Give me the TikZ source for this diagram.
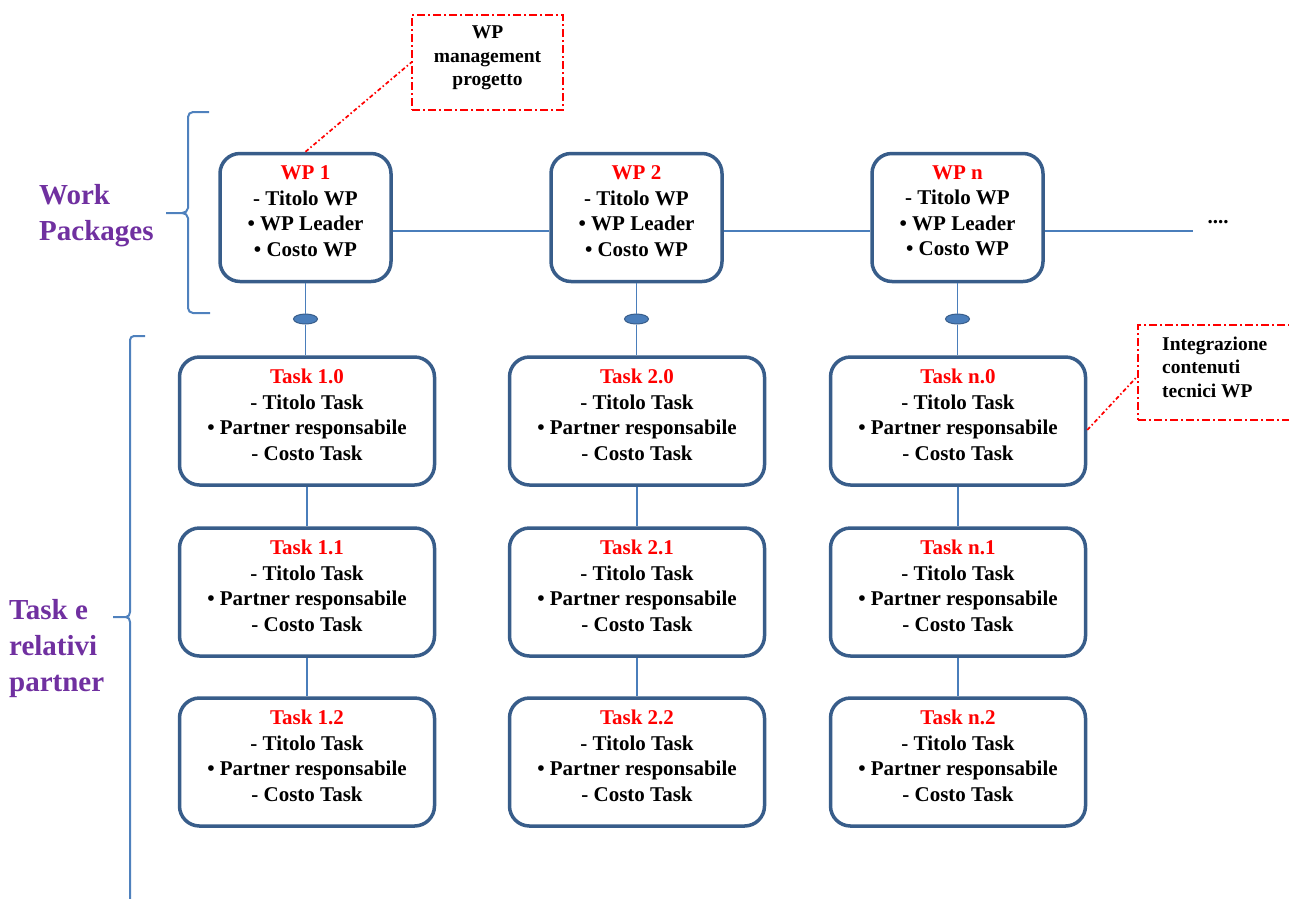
\documentclass[tikz,border=0pt]{standalone}
\usepackage{fontspec}
\setmainfont{Liberation Serif}
\usetikzlibrary{calc,shapes.geometric}
\definecolor{boxc}{HTML}{385D8A}
\definecolor{linec}{HTML}{4A7EBB}
\definecolor{bracec}{HTML}{4F81BD}
\definecolor{purp}{HTML}{7030A0}
\begin{document}
\begin{tikzpicture}[x=1pt,y=-1pt,
  wpbox/.style={draw=boxc, line width=3.5pt, rounded corners=20pt, fill=white,
    minimum width=171pt, minimum height=128pt, inner sep=0pt},
  taskbox/.style={draw=boxc, line width=3.5pt, rounded corners=20pt, fill=white,
    minimum width=255pt, minimum height=128pt, inner sep=0pt},
  boxtext/.style={font=\fontsize{21}{25.5}\selectfont\bfseries, align=center, inner sep=0pt},
  calltext/.style={font=\fontsize{19.5}{23.5}\selectfont\bfseries, inner sep=0pt},
  sidelabel/.style={font=\fontsize{29}{36}\selectfont\bfseries, text=purp, align=left, inner sep=0pt, anchor=west},
  callout/.style={draw=red, line width=1.6pt, dash pattern=on 8pt off 3pt on 2pt off 3pt, inner sep=0pt},
  leader/.style={draw=red, line width=1.7pt, dash pattern=on 4pt off 2.5pt on 1.5pt off 2.5pt},
  conn/.style={draw=linec, line width=1.8pt},
  brace/.style={draw=bracec, line width=2pt},
  tie/.style={ellipse, draw=boxc, line width=1pt, fill=linec, minimum width=24pt, minimum height=10pt, inner sep=0pt}
]
\useasboundingbox (0,0) rectangle (1289,898);
\clip (0,0) rectangle (1289,898);

% side labels
\node[sidelabel] (lwp) at (39,216) {Work\\Packages};
\node[sidelabel] (ltask) at (9,649) {Task e\\relativi\\partner};

% braces
\draw[brace] (209,112) -- (193,112) to[out=180,in=90] (188,117) -- (188,208)
  to[out=-90,in=0] (182,213) -- (166,213);
\draw[brace] (182,213) to[out=0,in=90] (188,218) -- (188,308) to[out=-90,in=180] (193,313) -- (210,313);
\draw[brace] (145,336) -- (134,336) to[out=180,in=90] (130,340) -- (130,612)
  to[out=-90,in=0] (126,617) -- (113,617);
\draw[brace] (126,617) to[out=0,in=90] (130,622) -- (130,900);

% horizontal WP line
\coordinate (hy) at (0,231);
\coordinate (dotsend) at (1193,231);

% WP boxes
\node[wpbox] (wp1) at (305.5,217.5) {};
\node[wpbox] (wp2) at (636.5,217.5) {};
\node[wpbox] (wpn) at (957.5,217.5) {};

\draw[conn] (wp1.east|-hy) -- (wp2.west|-hy);
\draw[conn] (wp2.east|-hy) -- (wpn.west|-hy);
\draw[conn] (wpn.east|-hy) -- (dotsend);
\node[boxtext] (dots) at (1218,222) {....};

\node[boxtext] (wp1t) at (305.5,211) {\textcolor{red}{WP 1}\\- Titolo WP\\• WP Leader\\• Costo WP};
\node[boxtext] (wp2t) at (636.5,211) {\textcolor{red}{WP 2}\\- Titolo WP\\• WP Leader\\• Costo WP};
\node[boxtext] (wpnt) at (957.5,211) {\textcolor{red}{WP n}\\- Titolo WP\\• WP Leader\\• Costo WP};

% task boxes
\foreach \c/\x/\lab in {1/307/1,2/637/2,3/958/n}{
  \node[taskbox] (t\c0) at (\x,421) {};
  \node[taskbox] (t\c1) at (\x,592) {};
  \node[taskbox] (t\c2) at (\x,762) {};
  \node[boxtext] (t\c0t) at (\x,415) {\textcolor{red}{Task \lab.0}\\- Titolo Task\\• Partner responsabile\\- Costo Task};
  \node[boxtext] (t\c1t) at (\x,586) {\textcolor{red}{Task \lab.1}\\- Titolo Task\\• Partner responsabile\\- Costo Task};
  \node[boxtext] (t\c2t) at (\x,756) {\textcolor{red}{Task \lab.2}\\- Titolo Task\\• Partner responsabile\\- Costo Task};
  \draw[conn] (t\c0.south) -- (t\c1.north);
  \draw[conn] (t\c1.south) -- (t\c2.north);
}

% WP to task connectors with ties
\node[tie] (e1) at (305.5,319) {};
\node[tie] (e2) at (636.5,319) {};
\node[tie] (e3) at (957.5,319) {};
\draw[conn] (wp1.south) -- (e1.north);
\draw[conn] (e1.south) -- (t10.north-|e1);
\draw[conn] (wp2.south) -- (e2.north);
\draw[conn] (e2.south) -- (t20.north-|e2);
\draw[conn] (wpn.south) -- (e3.north);
\draw[conn] (e3.south) -- (t30.north-|e3);

% callouts
\node[callout, minimum width=151pt, minimum height=95pt] (c1) at (487.5,62.5) {};
\node[calltext, align=center] (c1t) at (487.5,58) {WP\\management\\progetto};
\draw[leader] (wp1.north) -- (c1.west);

\node[callout, minimum width=170pt, minimum height=95pt] (c2) at (1223,372.5) {};
\node[calltext, align=left, anchor=west] (c2t) at (1162,367) {Integrazione\\contenuti\\tecnici WP};
\draw[leader] ($(t30.east)+(0,9)$) -- ($(c2.west)+(0,4)$);
\end{tikzpicture}
\end{document}
